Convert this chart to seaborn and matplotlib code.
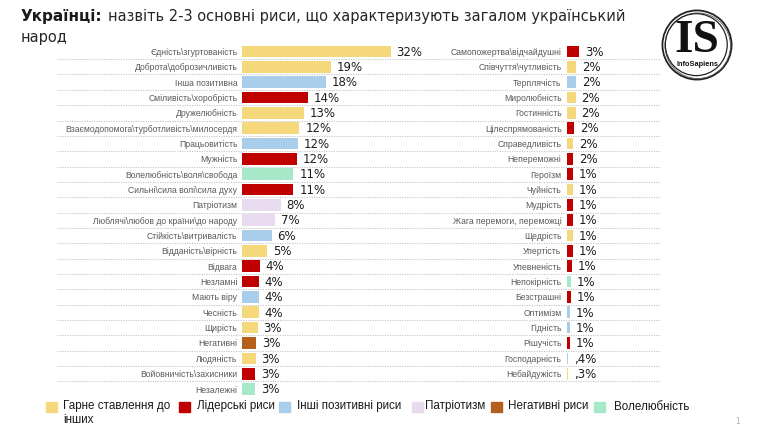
import matplotlib
matplotlib.use('Agg')
import matplotlib.pyplot as plt
import matplotlib.transforms as mtransforms
from matplotlib.patches import Rectangle, Circle
import pandas as pd
import seaborn as sns

# Left column of traits
left_labels = ['Єдність\\згуртованість', 'Доброта\\доброзичливість', 'Інша позитивна',
               'Сміливість\\хоробрість', 'Дружелюбність',
               'Взаємодопомога\\турботливість\\милосердя', 'Працьовитість', 'Мужність',
               'Волелюбність\\воля\\свобода', 'Сильні\\сила волі\\сила духу', 'Патріотизм',
               'Люблячі\\любов до країни\\до народу', 'Стійкість\\витривалість',
               'Відданість\\вірність', 'Відвага', 'Незламні', 'Мають віру', 'Чесність',
               'Щирість', 'Негативні', 'Людяність', 'Войовничість\\захисники', 'Незалежні']
left_values = [32.0, 19.1, 18.0, 14.2, 13.3, 12.3, 11.9, 11.7, 11.0, 11.0, 8.3, 7.1, 6.3,
               5.4, 3.8, 3.6, 3.5, 3.5, 3.3, 2.95, 2.9, 2.8, 2.8]
left_text = ['32%', '19%', '18%', '14%', '13%', '12%', '12%', '12%', '11%', '11%', '8%',
             '7%', '6%', '5%', '4%', '4%', '4%', '4%', '3%', '3%', '3%', '3%', '3%']
left_groups = ['good', 'good', 'other', 'leader', 'good', 'good', 'other', 'leader', 'free',
               'leader', 'patriot', 'patriot', 'other', 'good', 'leader', 'leader', 'other',
               'good', 'good', 'negative', 'good', 'leader', 'free']

# Right column of traits
right_labels = ['Самопожертва\\відчайдушні', 'Співчуття\\чутливість', 'Терплячість',
                'Миролюбність', 'Гостинність', 'Цілеспрямованість', 'Справедливість',
                'Непереможні', 'Героїзм', 'Чуйність', 'Мудрість', 'Жага перемоги, переможці',
                'Щедрість', 'Упертість', 'Упевненість', 'Непокірність', 'Безстрашні',
                'Оптимізм', 'Гідність', 'Рішучість', 'Господарність', 'Небайдужість']
right_values = [2.7, 2.15, 2.1, 2.0, 2.0, 1.65, 1.5, 1.5, 1.4, 1.4, 1.3, 1.3, 1.3, 1.3,
                1.1, 0.9, 0.9, 0.7, 0.7, 0.7, 0.4, 0.3]
right_text = ['3%', '2%', '2%', '2%', '2%', '2%', '2%', '2%', '1%', '1%', '1%', '1%', '1%',
              '1%', '1%', '1%', '1%', '1%', '1%', '1%', ',4%', ',3%']
right_groups = ['leader', 'good', 'other', 'good', 'good', 'leader', 'good', 'leader',
                'leader', 'good', 'leader', 'leader', 'good', 'leader', 'leader', 'free',
                'leader', 'other', 'other', 'leader', 'other', 'good']

group_keys = ['good', 'leader', 'other', 'patriot', 'negative', 'free']
group_names = ['Гарне ставлення до\nінших', 'Лідерські риси', 'Інші позитивні риси',
               'Патріотизм', 'Негативні риси', 'Волелюбність']
group_colors = ['#F5D77C', '#C00000', '#A9CEEB', '#E8DAEF', '#B45F1B', '#A6E8C8']
palette = dict(zip(group_keys, group_colors))

W, H = 764, 430
fig = plt.figure(figsize=(W / 100, H / 100), dpi=100)

n_rows = len(left_labels)
top_px, bot_px = 43.8, 396.7
scale_px = 4.64  # pixels per percent
xmax = 35


def draw_panel(x0_px, labels, values, texts, groups):
    ax = fig.add_axes([x0_px / W, 1 - bot_px / H, xmax * scale_px / W, (bot_px - top_px) / H])
    df = pd.DataFrame({'label': labels, 'value': values, 'group': groups})
    sns.barplot(data=df, x='value', y='label', hue='group', palette=palette, dodge=False,
                orient='h', width=0.76, legend=False, ax=ax, saturation=1, zorder=3)
    for i, (v, t) in enumerate(zip(values, texts)):
        ax.annotate(t, xy=(v, i), xytext=(4.2, -0.5), textcoords='offset points',
                    va='center', ha='left', fontsize=8.5, color='#1e1e1e',
                    family='DejaVu Sans')
    ax.set_xlim(0, xmax)
    ax.set_ylim(n_rows - 0.5, -0.5)
    ax.set_xlabel('')
    ax.set_ylabel('')
    ax.set_xticks([])
    ax.tick_params(axis='y', length=0, pad=3.6)
    for lab in ax.get_yticklabels():
        lab.set_fontsize(6.25)
        lab.set_family('Liberation Sans')
        lab.set_color('#5a5a5a')
    for s in ax.spines.values():
        s.set_visible(False)
    ax.patch.set_visible(False)
    return ax


ax_l = draw_panel(242.3, left_labels, left_values, left_text, left_groups)
ax_r = draw_panel(566.5, right_labels, right_values, right_text, right_groups)

# dotted separators running across both panels
trans = mtransforms.blended_transform_factory(fig.transFigure, ax_l.transData)
ax_l.hlines([k + 0.5 for k in range(n_rows - 1)], 57 / W, 660 / W, transform=trans,
            clip_on=False, colors='#c4c4c4', linestyles=(0, (1, 1.2)), lw=0.8, zorder=0)

# title
t1 = fig.text(21 / W, 1 - 21 / H, 'Українці:', fontsize=11, fontweight='bold',
              color='#1a1a1a', family='DejaVu Sans')
fig.canvas.draw()
bb = t1.get_window_extent()
fig.text(bb.x1 / W + 5 / W, 1 - 21 / H,
         'назвіть 2-3 основні риси, що характеризують загалом український',
         fontsize=10.5, color='#262626', family='DejaVu Sans')
fig.text(21 / W, 1 - 42 / H, 'народ', fontsize=10.5, color='#262626', family='DejaVu Sans')

# legend
legend_pos = [(46, 63), (179, 197), (279, 297), (412, 425), (491, 508), (594, 614)]
for (sx, tx), c, name in zip(legend_pos, group_colors, group_names):
    fig.patches.append(Rectangle((sx / W, 1 - 412 / H), 11 / W, 10 / H, color=c,
                                 transform=fig.transFigure, figure=fig))
    fig.text(tx / W, 1 - 400.5 / H, name, fontsize=8.4, color='#1a1a1a', va='top',
             family='Liberation Sans', linespacing=1.2)

# page number
fig.text(735 / W, 1 - 421 / H, '1', fontsize=5.5, color='#b0b0b0', va='center')

# logo
lx, ly, lr = 697, 45, 36
ax_logo = fig.add_axes([(lx - lr) / W, 1 - (ly + lr) / H, 2 * lr / W, 2 * lr / H])
ax_logo.set_xlim(-1, 1)
ax_logo.set_ylim(-1, 1)
ax_logo.set_aspect('equal')
ax_logo.axis('off')
ax_logo.add_patch(Circle((0, 0), 0.96, fill=False, lw=1.3, color='#222222'))
ax_logo.add_patch(Circle((0.02, -0.02), 0.91, fill=False, lw=0.6, color='#555555'))
ax_logo.add_patch(Circle((-0.02, 0.01), 0.86, fill=False, lw=0.9, color='#222222'))
ax_logo.text(0, 0.12, 'IS', ha='center', va='center', fontsize=34, fontweight='bold',
             family='Liberation Serif', color='#111111')
ax_logo.text(0, -0.55, 'InfoSapiens', ha='center', va='center', fontsize=5.3,
             fontweight='bold', family='Liberation Sans', color='#111111')

fig.savefig('out.png', dpi=100, facecolor='white')
